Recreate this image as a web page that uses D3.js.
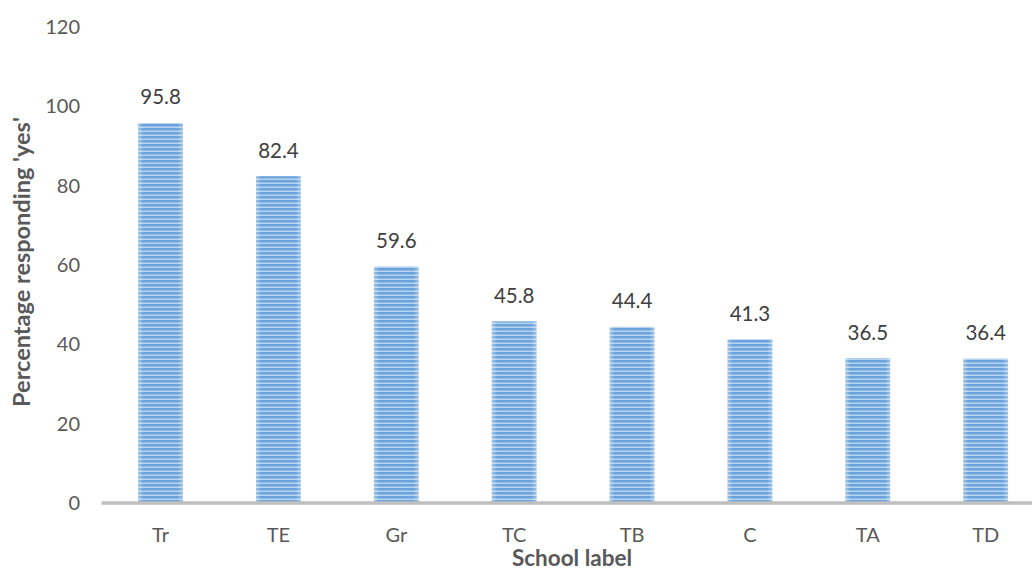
<!DOCTYPE html>
<html>
<head>
<meta charset="utf-8">
<script src="https://cdn.jsdelivr.net/npm/d3@7"></script>
<style>
  html, body { margin: 0; padding: 0; background: #fff; }
  svg { display: block; font-family: Lato, "Open Sans", sans-serif; }
</style>
</head>
<body>
<svg id="chart" width="1032" height="570"></svg>
<script>
// School categories and share of respondents answering 'yes'
const schools = ["Tr", "TE", "Gr", "TC", "TB", "C", "TA", "TD"];
const yesPercent = [95.8, 82.4, 59.6, 45.8, 44.4, 41.3, 36.5, 36.4];
const yTicks = [0, 20, 40, 60, 80, 100, 120];

const svg = d3.select("#chart");
const margin = { left: 101.6, right: -12.6, top: 27, bottom: 67 };
const W = 1032, H = 570;
const font = "Lato, 'Open Sans', sans-serif";

const x = d3.scaleBand()
  .domain(schools)
  .range([margin.left, W - margin.right])
  .paddingInner(0.62)
  .paddingOuter(0.31);

const y = d3.scaleLinear()
  .domain([0, 120])
  .range([H - margin.bottom, margin.top]);

// Striped fill for the bars
const defs = svg.append("defs");
const pat = defs.append("pattern")
  .attr("id", "stripes")
  .attr("patternUnits", "userSpaceOnUse")
  .attr("width", 8).attr("height", 4);
pat.append("rect").attr("width", 8).attr("height", 4).attr("fill", "#6aa3db");
pat.append("rect").attr("y", 2.5).attr("width", 8).attr("height", 1.5).attr("fill", "#b7d3ef");

const edge = defs.append("linearGradient").attr("id", "edgeShade");
edge.append("stop").attr("offset", "0%").attr("stop-color", "#fff").attr("stop-opacity", 0.35);
edge.append("stop").attr("offset", "12%").attr("stop-color", "#fff").attr("stop-opacity", 0);
edge.append("stop").attr("offset", "88%").attr("stop-color", "#fff").attr("stop-opacity", 0);
edge.append("stop").attr("offset", "100%").attr("stop-color", "#fff").attr("stop-opacity", 0.35);

const data = schools.map((s, i) => ({ school: s, value: yesPercent[i] }));

// Y axis tick labels (no axis line, no gridlines)
const yAxis = svg.append("g")
  .attr("transform", `translate(80,0)`)
  .call(d3.axisLeft(y).tickValues(yTicks).tickSize(0).tickPadding(0));
yAxis.select(".domain").remove();
yAxis.selectAll("text")
  .attr("fill", "#595959")
  .style("font-size", "20px")
  .style("font-family", font);

// Bars
const bars = svg.append("g");
bars.selectAll("rect.bar")
  .data(data)
  .join("rect")
  .attr("class", "bar")
  .attr("x", d => x(d.school))
  .attr("width", x.bandwidth())
  .attr("y", d => y(d.value))
  .attr("height", d => y(0) - y(d.value))
  .attr("fill", "url(#stripes)");
bars.selectAll("rect.shade")
  .data(data)
  .join("rect")
  .attr("class", "shade")
  .attr("x", d => x(d.school))
  .attr("width", x.bandwidth())
  .attr("y", d => y(d.value))
  .attr("height", d => y(0) - y(d.value))
  .attr("fill", "url(#edgeShade)");

// Value labels
svg.append("g").selectAll("text")
  .data(data)
  .join("text")
  .attr("x", d => x(d.school) + x.bandwidth() / 2)
  .attr("y", d => y(d.value) - 18.5)
  .attr("text-anchor", "middle")
  .attr("fill", "#404040")
  .style("font-size", "20.5px")
  .text(d => d.value.toFixed(1));

// X axis baseline and category labels
const xAxis = svg.append("g")
  .attr("transform", `translate(0,${y(0)})`)
  .call(d3.axisBottom(x).tickSize(0).tickPadding(25));
xAxis.select(".domain")
  .attr("stroke", "#bfbfbf")
  .attr("stroke-width", 3.5)
  .attr("d", `M${margin.left},0H${W}`);
xAxis.selectAll("text")
  .attr("fill", "#595959")
  .style("font-size", "20px")
  .style("font-family", font);

// Axis titles
svg.append("text")
  .attr("x", 572)
  .attr("y", 566)
  .attr("text-anchor", "middle")
  .attr("fill", "#595959")
  .style("font-size", "22.5px")
  .style("font-weight", "bold")
  .text("School label");

svg.append("text")
  .attr("transform", `translate(30,262) rotate(-90)`)
  .attr("text-anchor", "middle")
  .attr("fill", "#595959")
  .style("font-size", "23.5px")
  .style("font-weight", "bold")
  .text("Percentage responding 'yes'");
</script>
</body>
</html>
